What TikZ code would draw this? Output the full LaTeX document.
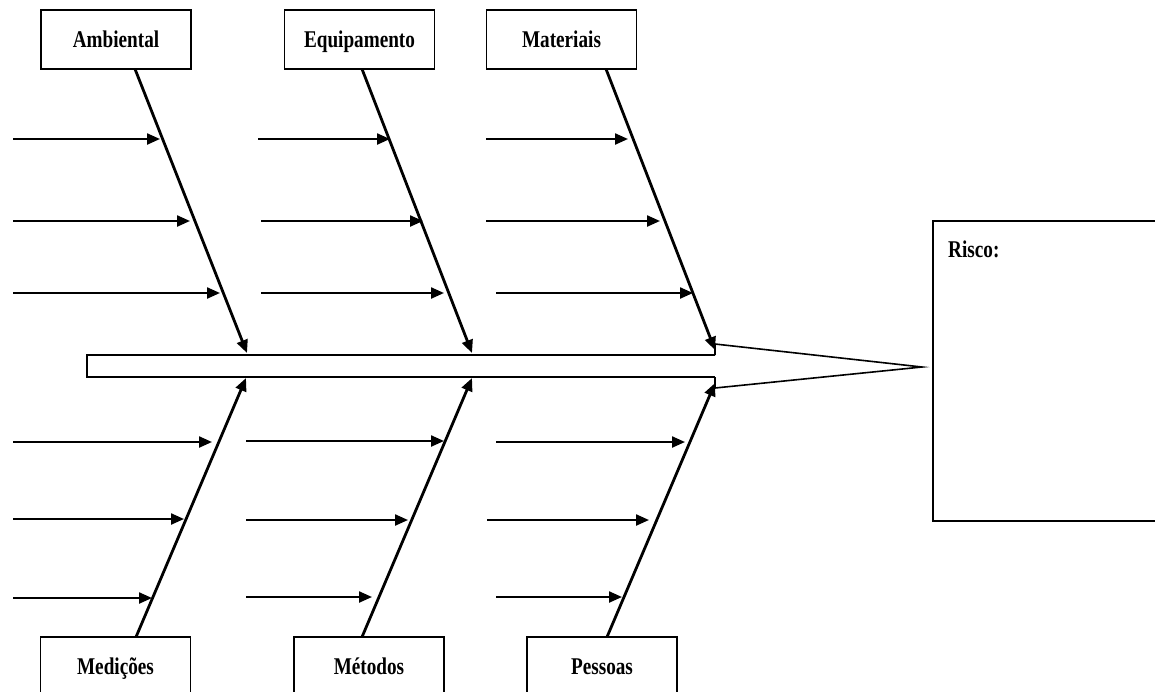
\documentclass[tikz,border=0pt]{standalone}
\usepackage{fontspec}
\newfontfamily\catfont[FakeStretch=0.8]{Liberation Serif}
\usetikzlibrary{arrows.meta}

\begin{document}
\begin{tikzpicture}[x=1pt,y=-1pt,
  lbl/.style={font=\catfont\bfseries\fontsize{24}{28}\selectfont},
  catbox/.style={lbl, draw, line width=1.6pt, minimum width=150pt, minimum height=59pt,
                 inner sep=0pt, text height=16pt, text depth=0pt},
  bone/.style={line width=2.8pt, -{Triangle[length=13pt,width=11pt]}},
  rib/.style={line width=2.3pt, -{Triangle[length=13pt,width=11pt]}},
  outline/.style={line width=1.6pt, line join=miter},
]
\useasboundingbox (0,0) rectangle (1155,691);
\clip (0,0) rectangle (1155,691);

% category boxes
\node[catbox] (amb) at (116,39.5)    {Ambiental};
\node[catbox] (equ) at (359.5,39.5)  {Equipamento};
\node[catbox] (mat) at (561.5,39.5)  {Materiais};
\node[catbox] (med) at (115.5,666.5) {Medições};
\node[catbox] (met) at (369,666.5)   {Métodos};
\node[catbox] (pes) at (602,666.5)   {Pessoas};

% spine and head
\draw[outline] (715,355) -- (87,355) -- (87,377) -- (715,377);
\draw[outline] (715,355) -- (715,344) -- (922,367) -- (715,388) -- (715,377);

% main bones
\coordinate (b1s) at (135,69);  \coordinate (b1e) at (247,353);
\coordinate (b2s) at (362,69);  \coordinate (b2e) at (472,353);
\coordinate (b3s) at (606,69);  \coordinate (b3e) at (715,350);
\coordinate (b4s) at (136,637); \coordinate (b4e) at (246,378);
\coordinate (b5s) at (362,637); \coordinate (b5e) at (472,378);
\coordinate (b6s) at (607,637); \coordinate (b6e) at (715,383);
\foreach \i in {1,...,6} \draw[bone] (b\i s) -- (b\i e);

% causes on each bone
\foreach \n/\xa/\yy/\xb in {
   1/13/139/160,  2/13/221/190,  3/13/293/220,
   4/258/139/390, 5/261/221/423, 6/261/293/444,
   7/486/139/628, 8/486/221/660, 9/496/293/693,
  10/13/442/212, 11/13/519/184, 12/13/598/152,
  13/246/441/444,14/246/520/408,15/246/597/372,
  16/496/442/685,17/487/520/649,18/496/597/622} {
  \coordinate (r\n a) at (\xa,\yy);
  \coordinate (r\n b) at (\xb,\yy);
  \draw[rib] (r\n a) -- (r\n b);
}

% risk box
\node[draw, outline, anchor=north west, minimum width=240pt, minimum height=300pt,
      inner sep=0pt] (risk) at (932,220) {};
\node[lbl, anchor=base west, inner sep=0pt] (risklbl) at (948,257) {Risco:};
\end{tikzpicture}
\end{document}
